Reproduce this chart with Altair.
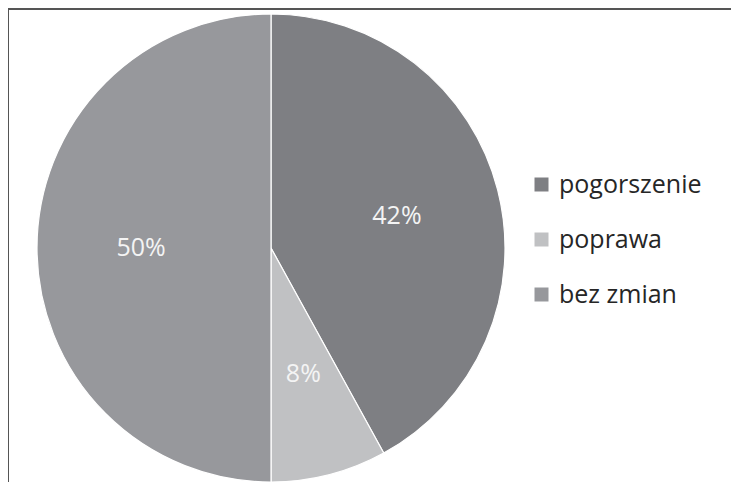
import altair as alt
import pandas as pd

categories = ["pogorszenie", "poprawa", "bez zmian"]
values = [42, 8, 50]
labels = ["42%", "8%", "50%"]
colors = ["#7e7f83", "#c0c1c3", "#97989c"]

df = pd.DataFrame({"kategoria": categories, "wartosc": values, "etykieta": labels,
                   "order": list(range(len(categories)))})

CX, CY, R = 263, 240, 234

base = alt.Chart(df).encode(
    theta=alt.Theta("wartosc:Q", stack=True),
    order=alt.Order("order:Q"),
)

pie = base.mark_arc(outerRadius=R, stroke="white", strokeWidth=1.2).encode(
    x=alt.value(CX), y=alt.value(CY),
    color=alt.Color(
        "kategoria:N",
        scale=alt.Scale(domain=categories, range=colors),
        sort=categories,
        legend=alt.Legend(
            title=None, orient="none", legendX=521, legendY=164,
            symbolType="square", symbolSize=196, symbolStrokeWidth=0,
            labelFont="Open Sans", labelFontSize=25, labelColor="#262626",
            labelOffset=5, rowPadding=29, symbolOffset=0,
        ),
    ),
)

text = base.mark_text(radius=130, font="Open Sans", fontSize=25, color="#f4f4f4").encode(
    x=alt.value(CX), y=alt.value(CY),
    text="etykieta:N",
)

frame_df = pd.DataFrame({"k": [0]})
top_line = alt.Chart(frame_df).mark_rule(color="#555555", strokeWidth=2).encode(
    x=alt.value(-1), x2=alt.value(731), y=alt.value(1)
)
left_line = alt.Chart(frame_df).mark_rule(color="#555555", strokeWidth=2).encode(
    x=alt.value(0), y=alt.value(0), y2=alt.value(482)
)

chart = alt.layer(pie, text, top_line, left_line).properties(
    width=723, height=474, padding=0, autosize=alt.AutoSizeParams(type="none")
).configure_view(stroke=None)

chart.save("out.html", embed_options={"renderer": "svg", "actions": False})
